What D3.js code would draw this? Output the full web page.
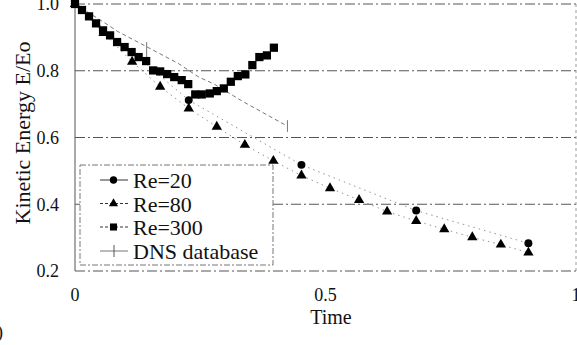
<!DOCTYPE html>
<html><head><meta charset="utf-8">
<script src="https://cdn.jsdelivr.net/npm/d3@7"></script>
<style>body{margin:0;background:#fff}svg{display:block}</style>
</head><body><div id="c"></div>
<script>
const xTicks=[0,0.5,1];
const xTickLabels=["0","0.5","1"];
const yTicks=[0.2,0.4,0.6,0.8,1.0];
const yTickLabels=["0.2","0.4","0.6","0.8","1.0"];

const re20T=[0,0.227,0.452,0.681,0.905];
const re20E=[1.0,0.712,0.518,0.381,0.283];

const re80T=[0,0.057,0.114,0.170,0.227,0.283,0.339,0.396,0.452,0.509,0.567,0.623,0.681,0.737,0.793,0.850,0.905];
const re80E=[1.0,0.913,0.827,0.752,0.687,0.632,0.578,0.530,0.486,0.448,0.413,0.378,0.350,0.325,0.301,0.279,0.255];

const re300T=[0,0.014,0.028,0.042,0.056,0.070,0.084,0.099,0.113,0.127,0.142,0.156,0.170,0.184,0.198,0.213,0.226,0.240,0.253,0.269,0.283,0.297,0.311,0.325,0.340,0.354,0.368,0.383,0.397];
const re300E=[1.0,0.982,0.963,0.942,0.921,0.906,0.886,0.871,0.856,0.841,0.829,0.801,0.798,0.790,0.781,0.772,0.760,0.729,0.729,0.732,0.739,0.747,0.767,0.784,0.789,0.817,0.841,0.846,0.869];

const dnsT=[0,0.066,0.086,0.143,0.206,0.246,0.279,0.336,0.424];
const dnsE=[1.0,0.937,0.917,0.872,0.822,0.782,0.759,0.707,0.634];
const dnsErrT=[0.143,0.424];
const dnsErrLo=[0.823,0.617];
const dnsErrHi=[0.886,0.652];

const legendLabels=["Re=20","Re=80","Re=300","DNS database"];

const W=577,H=345;
const FONT="'Liberation Serif','Times New Roman',Times,'DejaVu Serif',serif";
const svg=d3.select("#c").append("svg").attr("width",W).attr("height",H)
  .attr("font-family",FONT).style("font-family",FONT);
svg.append("rect").attr("width",W).attr("height",H).attr("fill","#fff");

const x=d3.scaleLinear().domain([0,1]).range([75,576]);
const y=d3.scaleLinear().domain([0.2,1.0]).range([271,4]);

// gridlines
svg.append("g").selectAll("line").data(yTicks).join("line")
  .attr("x1",x(0)).attr("x2",x(1)).attr("y1",d=>y(d)).attr("y2",d=>y(d))
  .attr("stroke","#555").attr("stroke-width",1).attr("stroke-dasharray","10,3,2,3");
// left axis line
svg.append("line").attr("x1",x(0)).attr("x2",x(0)).attr("y1",y(1)).attr("y2",y(0.2))
  .attr("stroke","#555").attr("stroke-width",1);
// right border
svg.append("line").attr("x1",x(1)).attr("x2",x(1)).attr("y1",y(1)).attr("y2",y(0.2))
  .attr("stroke","#999").attr("stroke-width",1).attr("stroke-dasharray","3,3");

const T=svg.append("g").attr("fill","#111");
// y tick labels
T.append("g").selectAll("text").data(yTicks).join("text")
  .attr("x",59).attr("y",d=>y(d)).attr("dy","0.35em").attr("text-anchor","end")
  .attr("font-size",18).text((d,i)=>yTickLabels[i]);
// x tick labels
T.append("g").selectAll("text").data(xTicks).join("text")
  .attr("x",d=>x(d)).attr("y",301).attr("text-anchor","middle")
  .attr("font-size",18).text((d,i)=>xTickLabels[i]);

T.append("text").attr("x",331).attr("y",324).attr("text-anchor","middle").attr("font-size",20).text("Time");
T.append("text").attr("transform","translate(30,133) rotate(-90)").attr("text-anchor","middle").attr("font-size",22).text("Kinetic Energy E/Eo");
T.append("text").attr("x",3).attr("y",338).attr("text-anchor","end").attr("font-size",18).text("(b)");

const zip=(A,B)=>A.map((t,i)=>[t,B[i]]);
const line=d3.line().x(d=>x(d[0])).y(d=>y(d[1]));

// DNS line and error bars
svg.append("path").attr("d",line(zip(dnsT,dnsE))).attr("fill","none")
  .attr("stroke","#777").attr("stroke-width",1).attr("stroke-dasharray","4,3");
svg.append("g").selectAll("line").data(dnsErrT).join("line")
  .attr("x1",d=>x(d)).attr("x2",d=>x(d)).attr("y1",(d,i)=>y(dnsErrLo[i])).attr("y2",(d,i)=>y(dnsErrHi[i]))
  .attr("stroke","#777").attr("stroke-width",1);

// faint series lines
[[re20T,re20E],[re80T,re80E],[re300T,re300E]].forEach(([A,B])=>{
  svg.append("path").attr("d",line(zip(A,B))).attr("fill","none")
    .attr("stroke","#888").attr("stroke-width",0.9).attr("stroke-dasharray","1.5,4");
});

const sym=(type,size)=>d3.symbol().type(type).size(size)();
function markers(A,B,type,size){
  svg.append("g").selectAll("path").data(zip(A,B)).join("path")
    .attr("transform",d=>`translate(${x(d[0])},${y(d[1])})`)
    .attr("d",sym(type,size)).attr("fill","#000");
}
markers(re80T,re80E,d3.symbolTriangle,46);
markers(re20T,re20E,d3.symbolCircle,50);
markers(re300T,re300E,d3.symbolSquare,68);

// legend
const lg=svg.append("g");
lg.append("rect").attr("x",80).attr("y",165).attr("width",193).attr("height",100)
  .attr("fill","#fff").attr("stroke","#777").attr("stroke-width",1).attr("stroke-dasharray","6,2,2,2");
const rows=[180,203.5,227,251];
const types=[d3.symbolCircle,d3.symbolTriangle,d3.symbolSquare,null];
const dashes=[null,"3,2","3,2",null];
rows.forEach((ry,i)=>{
  lg.append("line").attr("x1",100).attr("x2",128).attr("y1",ry).attr("y2",ry)
    .attr("stroke",i<3?"#333":"#777").attr("stroke-width",1).attr("stroke-dasharray",dashes[i]);
  if(types[i]) lg.append("path").attr("transform",`translate(113.5,${ry})`).attr("d",sym(types[i],i===1?36:i===0?42:50)).attr("fill","#000");
  else lg.append("line").attr("x1",114).attr("x2",114).attr("y1",ry-6).attr("y2",ry+6).attr("stroke","#555").attr("stroke-width",1);
  lg.append("text").attr("x",133).attr("y",ry+8).attr("font-size",22).attr("fill","#111").text(legendLabels[i]);
});
</script></body></html>
